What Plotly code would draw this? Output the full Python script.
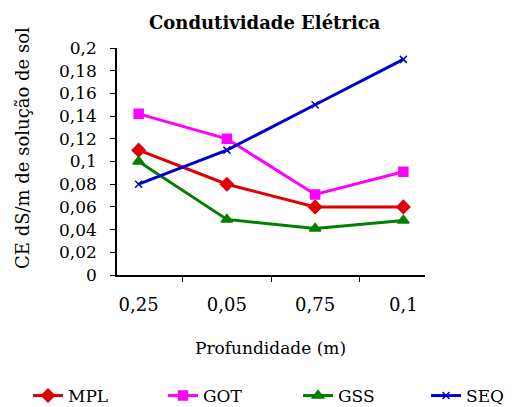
import plotly.graph_objects as go

categories = ["0,25", "0,05", "0,75", "0,1"]
mpl = [0.11, 0.08, 0.06, 0.06]
got = [0.142, 0.12, 0.071, 0.091]
gss = [0.10, 0.049, 0.041, 0.048]
seq = [0.08, 0.11, 0.15, 0.19]
y_ticks = [0, 0.02, 0.04, 0.06, 0.08, 0.1, 0.12, 0.14, 0.16, 0.18, 0.2]
y_tick_labels = ["0", "0,02", "0,04", "0,06", "0,08", "0,1", "0,12", "0,14", "0,16", "0,18", "0,2"]

series = [
    ("MPL", mpl, "#E00000", "diamond", 10, "legend"),
    ("GOT", got, "#FF00FF", "square", 9, "legend2"),
    ("GSS", gss, "#008000", "triangle-up", 10, "legend3"),
    ("SEQ", seq, "#0000CC", "x-thin", 7, "legend4"),
]
legend_text_left_px = [70, 205, 340, 468]

W, H = 516, 407
L, T, PW, PH = 117, 48, 308, 227
font = "DejaVu Serif"


def px_x(px):
    return (px - L) / PW


def px_y(py):
    return (T + PH - py) / PH


fig = go.Figure()
for name, vals, color, sym, size, lg in series:
    fig.add_trace(go.Scatter(
        x=categories, y=vals, name=name, mode="lines+markers", legend=lg,
        line=dict(color=color, width=3),
        marker=dict(symbol=sym, size=size, color=color,
                    line=dict(color=color, width=1.5)),
    ))

legends = {}
for i, (s, px) in enumerate(zip(series, legend_text_left_px)):
    key = "legend" if i == 0 else f"legend{i+1}"
    legends[key] = dict(
        xref="container", x=(px - 42) / W, xanchor="left",
        yref="container", y=1 - 396 / H, yanchor="middle",
        font=dict(size=17, family=font), bgcolor="rgba(0,0,0,0)",
    )

fig.update_layout(
    width=W, height=H,
    margin=dict(l=L, r=W - L - PW, t=T, b=H - T - PH, autoexpand=False),
    paper_bgcolor="white", plot_bgcolor="white",
    font=dict(family=font, size=16, color="black"),
    showlegend=True,
    annotations=[
        dict(text="<b>Condutividade Elétrica</b>", x=px_x(265), y=px_y(22), xref="paper", yref="paper",
             showarrow=False, font=dict(size=18, family=font), xanchor="center", yanchor="middle"),
        dict(text="CE dS/m de solução de sol", x=px_x(22), y=px_y(148), xref="paper", yref="paper",
             showarrow=False, textangle=-90, font=dict(size=18, family=font),
             xanchor="center", yanchor="middle"),
        dict(text="Profundidade (m)", x=px_x(270), y=px_y(348), xref="paper", yref="paper",
             showarrow=False, font=dict(size=17, family=font), xanchor="center", yanchor="middle"),
    ],
    **legends,
)
fig.update_xaxes(
    type="category", showline=True, linecolor="black", linewidth=1.5,
    ticks="outside", tickson="boundaries", ticklen=5, tickcolor="black",
    showgrid=False, zeroline=False, ticklabelstandoff=13, tickangle=0,
    tickfont=dict(size=18, family=font),
)
fig.update_yaxes(
    range=[0, 0.2], tickvals=y_ticks, ticktext=y_tick_labels,
    showline=True, linecolor="black", linewidth=1.5,
    ticks="outside", ticklen=5, tickcolor="black", ticklabelstandoff=10,
    showgrid=False, zeroline=False, tickfont=dict(size=17, family=font),
)
fig.write_html("out.html", config={"displayModeBar": False},
               post_script="document.body.style.margin='0';")
